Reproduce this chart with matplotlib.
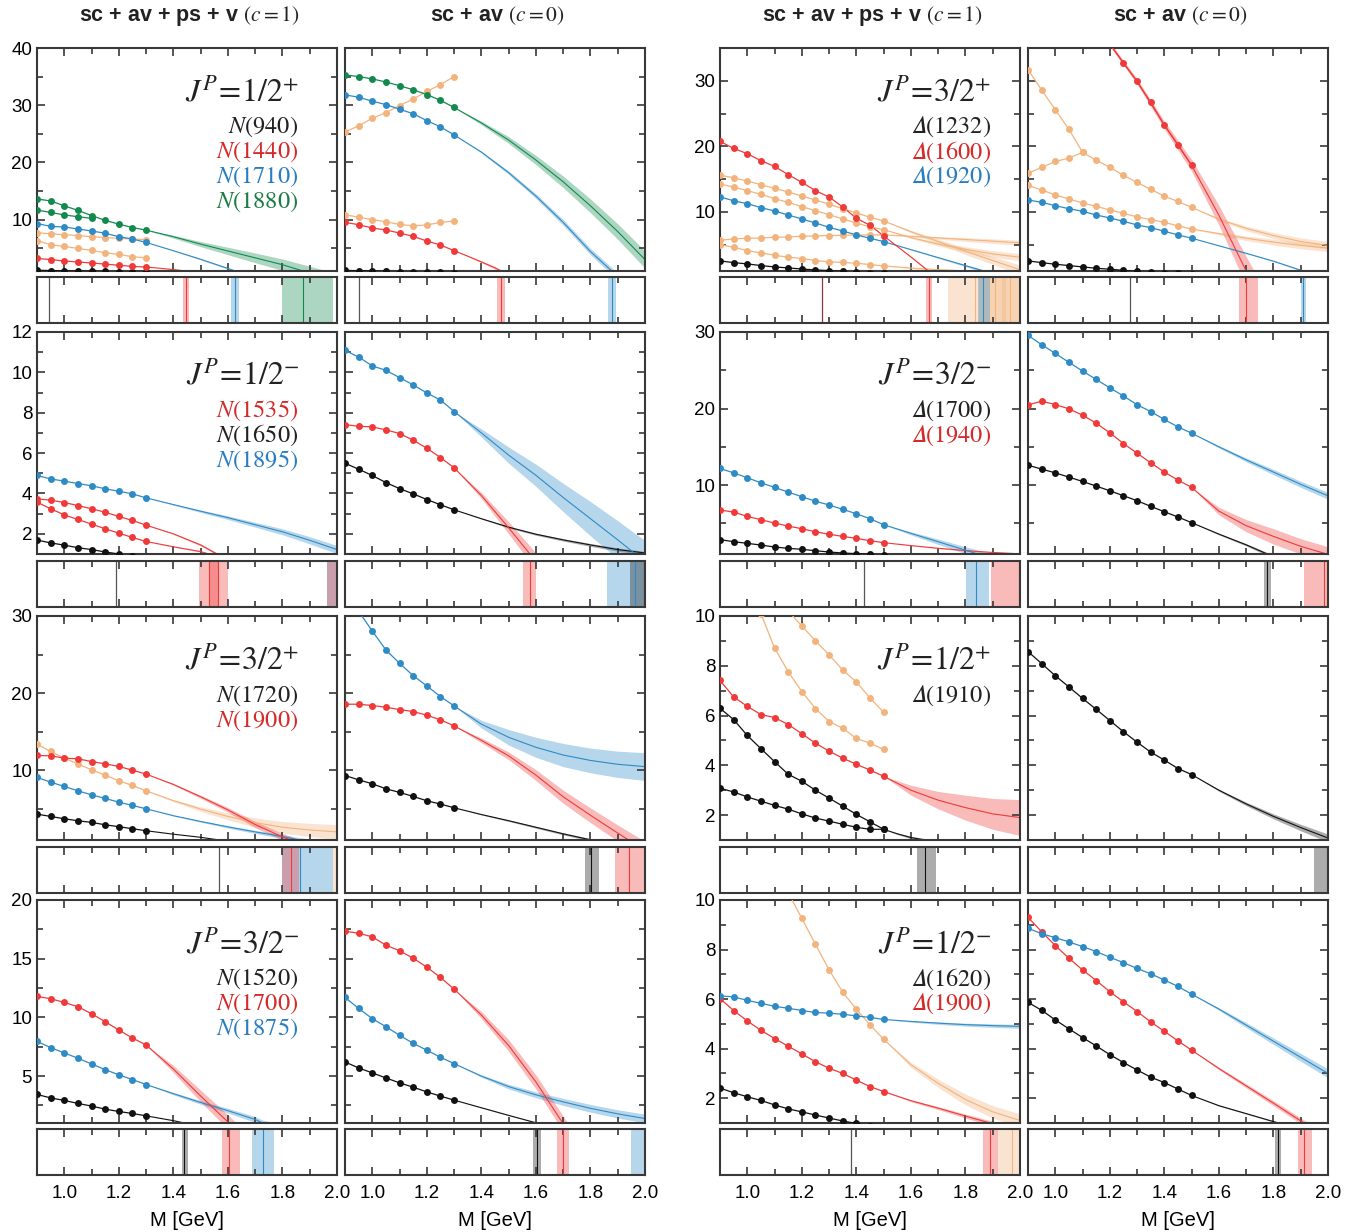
import numpy as np
import matplotlib
matplotlib.use("Agg")
import matplotlib.pyplot as plt
from matplotlib.ticker import MultipleLocator, FixedLocator, FormatStrFormatter

plt.rcParams['font.family'] = ['Liberation Sans', 'DejaVu Sans']
plt.rcParams['mathtext.fontset'] = 'stix'

W, H = 1363, 1232

# ---------------- data ----------------
X9 = [0.9, 0.95, 1.0, 1.05, 1.1, 1.15, 1.2, 1.25, 1.3]
X13 = X9 + [1.35, 1.4, 1.45, 1.5]

COL = {'k': '#111111', 'r': '#f03a3a', 'b': '#2e8bc6', 'g': '#128a4e', 'o': '#f2b37c'}
TXT = {'k': '#222222', 'r': '#d42a2a', 'b': '#2a7dc0', 'g': '#1a7d45'}

# N, 1/2+, c=1
a1_k = [1.12, 1.08, 1.04, 1.0, 0.96, 0.92, 0.88, 0.84, 0.8]
a1_r = [3.2, 3.0, 2.75, 2.57, 2.4, 2.2, 2.0, 1.8, 1.7]
a1_r_ext = ([1.3, 1.35, 1.4, 1.446, 1.5], [1.7, 1.48, 1.25, 1.0, 0.7], [0, 0.02, 0.03, 0.03, 0.03])
a1_o1 = [7.7, 7.5, 7.35, 7.2, 7.0, 6.85, 6.7, 6.6, 6.5]
a1_o2 = [6.3, 5.6, 5.3, 4.95, 4.6, 4.2, 3.9, 3.5, 3.3]
a1_b = [9.3, 8.8, 8.7, 8.35, 8.0, 7.6, 7.0, 6.6, 6.0]
a1_b_ext = ([1.3, 1.4, 1.5, 1.6, 1.626, 1.7], [6.0, 4.55, 3.05, 1.45, 1.0, -0.1], [0, 0.05, 0.1, 0.15, 0.18, 0.2])
a1_g1 = [13.6, 13.25, 12.4, 11.6, 10.7, 9.85, 9.2, 8.6, 8.15]
a1_g2 = [11.65, 11.25, 10.8, 10.5, 10.2]
a1_g_ext = ([1.3, 1.4, 1.5, 1.6, 1.7, 1.8, 1.875, 1.95, 2.0],
            [8.15, 7.0, 5.7, 4.5, 3.3, 2.1, 1.0, -0.1, -0.8],
            [0, 0.25, 0.45, 0.65, 0.85, 1.0, 1.15, 1.3, 1.4])
a1_strip = [('k', 0.944, None, None), ('r', 1.446, 1.437, 1.456),
            ('b', 1.626, 1.611, 1.641), ('g', 1.875, 1.80, 1.985)]

# N, 1/2+, c=0
a2_k = [1.1, 1.05, 1.0, 0.95, 0.9, 0.85, 0.8, 0.75, 0.7]
a2_r = [9.5, 9.1, 8.52, 8.17, 7.64, 7.06, 6.24, 5.54, 4.55]
a2_r_ext = ([1.3, 1.35, 1.4, 1.45, 1.472, 1.52], [4.55, 3.6, 2.6, 1.55, 1.0, -0.1], [0, 0.08, 0.15, 0.22, 0.25, 0.25])
a2_b = [31.8, 31.4, 30.7, 30.1, 29.3, 28.5, 27.3, 26.2, 24.8]
a2_b_ext = ([1.3, 1.4, 1.5, 1.6, 1.7, 1.8, 1.878, 1.95],
            [24.8, 21.8, 18.2, 14.1, 9.5, 4.4, 1.0, -2.5],
            [0, 0.15, 0.3, 0.4, 0.5, 0.55, 0.6, 0.6])
a2_g = [35.3, 35.0, 34.6, 34.05, 33.4, 32.7, 31.85, 30.85, 29.6]
a2_g_ext = ([1.3, 1.4, 1.5, 1.6, 1.7, 1.8, 1.9, 2.0],
            [29.6, 26.9, 23.9, 20.4, 16.6, 12.4, 7.9, 3.0],
            [0, 0.3, 0.6, 0.8, 1.0, 1.2, 1.35, 1.5])
a2_o1 = [25.3, 26.4, 27.7, 28.7, 29.9, 31.1, 32.4, 33.6, 35.0]
a2_o2 = [10.85, 10.4, 10.0, 9.6, 9.15, 8.9, 9.05, 9.5, 9.75]
a2_strip = [('k', 0.952, None, None), ('r', 1.472, 1.456, 1.488), ('b', 1.878, 1.863, 1.893)]

# N, 1/2-, c=1
b1_k = [1.69, 1.55, 1.44, 1.31, 1.22, 1.1, 1.0, 0.9, 0.8]
b1_r1 = [3.73, 3.67, 3.55, 3.40, 3.24, 3.07, 2.86, 2.66, 2.43]
b1_r1_ext = ([1.3, 1.4, 1.5, 1.56, 1.6], [2.43, 2.0, 1.45, 1.0, 0.7], [0, 0.03, 0.05, 0.06, 0.06])
b1_r2 = [3.57, 3.24, 2.94, 2.71, 2.48, 2.25, 2.03, 1.82, 1.62]
b1_r2_ext = ([1.3, 1.4, 1.5, 1.53, 1.6], [1.62, 1.36, 1.12, 1.0, 0.75], [0, 0.02, 0.03, 0.03, 0.03])
b1_b = [4.89, 4.72, 4.61, 4.49, 4.38, 4.23, 4.11, 3.98, 3.78]
b1_b_ext = ([1.3, 1.4, 1.5, 1.6, 1.7, 1.8, 1.9, 2.0],
            [3.78, 3.45, 3.12, 2.8, 2.45, 2.1, 1.68, 1.22],
            [0, 0.03, 0.06, 0.09, 0.12, 0.15, 0.18, 0.2])
b1_strip = [('k', 1.188, None, None), ('r', 1.531, 1.494, 1.565), ('r', 1.562, 1.53, 1.60),
            ('b', 2.02, 1.963, 2.08), ('r', 2.03, 1.963, 2.08)]

# N, 1/2-, c=0
b2_k = [5.5, 5.2, 4.89, 4.54, 4.24, 3.98, 3.7, 3.44, 3.19]
b2_k_ext = ([1.3, 1.4, 1.5, 1.6, 1.7, 1.8, 1.9, 2.0],
            [3.19, 2.75, 2.33, 1.98, 1.7, 1.45, 1.22, 1.05],
            [0, 0.02, 0.04, 0.05, 0.06, 0.07, 0.08, 0.08])
b2_r = [7.41, 7.33, 7.30, 7.15, 6.97, 6.64, 6.24, 5.78, 5.27]
b2_r_ext = ([1.3, 1.4, 1.5, 1.578, 1.62], [5.27, 3.9, 2.3, 1.0, 0.3], [0, 0.15, 0.3, 0.4, 0.4])
b2_b = [11.09, 10.76, 10.32, 10.1, 9.74, 9.38, 8.98, 8.63, 8.06]
b2_b_ext = ([1.3, 1.4, 1.5, 1.6, 1.7, 1.8, 1.9, 1.965, 2.0],
            [8.06, 7.0, 5.9, 4.9, 3.8, 2.75, 1.7, 1.0, 0.63],
            [0, 0.2, 0.4, 0.55, 0.7, 0.85, 0.95, 1.0, 1.05])
b2_strip = [('r', 1.578, 1.554, 1.602), ('b', 1.965, 1.86, 2.07), ('k', 1.995, 1.945, 2.06)]

# N, 3/2+, c=1
c1_k = [4.35, 4.05, 3.75, 3.49, 3.28, 2.97, 2.72, 2.46, 2.2]
c1_k_ext = ([1.3, 1.4, 1.5, 1.568, 1.6], [2.2, 1.75, 1.35, 1.0, 0.85], [0, 0, 0, 0, 0])
c1_b = [9.1, 8.49, 7.93, 7.37, 6.85, 6.38, 5.9, 5.47, 5.04]
c1_b_ext = ([1.3, 1.4, 1.5, 1.6, 1.7, 1.8, 1.862, 1.95],
            [5.04, 4.15, 3.4, 2.7, 2.05, 1.45, 1.0, 0.6],
            [0, 0.05, 0.1, 0.15, 0.2, 0.25, 0.3, 0.3])
c1_r = [11.94, 11.9, 11.6, 11.51, 11.16, 10.86, 10.52, 10.04, 9.53]
c1_r_ext = ([1.3, 1.4, 1.5, 1.6, 1.7, 1.8, 1.83, 1.87],
            [9.53, 8.2, 6.6, 4.9, 3.0, 1.4, 1.0, 0.4],
            [0, 0.1, 0.2, 0.3, 0.4, 0.45, 0.45, 0.45])
c1_o = [13.41, 12.46, 11.6, 10.86, 10.09, 9.4, 8.66, 8.06, 7.37]
c1_o_ext = ([1.3, 1.4, 1.5, 1.6, 1.7, 1.8, 1.9, 2.0],
            [7.37, 6.1, 5.0, 4.05, 3.25, 2.65, 2.3, 2.05],
            [0, 0.15, 0.3, 0.45, 0.6, 0.75, 0.85, 0.95])
c1_strip = [('k', 1.568, None, None), ('b', 1.865, 1.80, 1.985), ('r', 1.83, 1.80, 1.86),
            ('o', 2.03, 1.985, 2.1)]

# N, 3/2+, c=0
c2_k = [9.35, 8.79, 8.28, 7.63, 7.16, 6.64, 6.08, 5.65, 5.17]
c2_k_ext = ([1.3, 1.4, 1.5, 1.6, 1.7, 1.803, 1.85], [5.17, 4.3, 3.5, 2.65, 1.8, 1.0, 0.6],
            [0, 0.05, 0.1, 0.12, 0.14, 0.15, 0.15])
c2_r = [18.58, 18.58, 18.41, 18.19, 17.89, 17.63, 17.16, 16.55, 15.78]
c2_r_ext = ([1.3, 1.4, 1.5, 1.6, 1.7, 1.8, 1.9, 1.94, 2.0],
            [15.78, 13.9, 11.9, 9.4, 6.6, 4.2, 1.9, 1.0, -0.3],
            [0, 0.3, 0.5, 0.7, 0.85, 0.95, 1.05, 1.1, 1.1])
c2_b = [33.5, 30.6, 28.06, 25.6, 23.88, 22.28, 20.95, 19.57, 18.36]
c2_b_ext = ([1.3, 1.4, 1.5, 1.6, 1.7, 1.8, 1.9, 2.0],
            [18.36, 16.0, 14.3, 13.0, 12.0, 11.3, 10.8, 10.5],
            [0, 0.5, 1.0, 1.3, 1.5, 1.6, 1.7, 1.8])
c2_strip = [('k', 1.803, 1.78, 1.83), ('r', 1.94, 1.89, 2.0)]

# N, 3/2-, c=1
d1_k = [3.43, 3.14, 2.92, 2.67, 2.44, 2.18, 1.98, 1.81, 1.61]
d1_k_ext = ([1.3, 1.4, 1.44, 1.5], [1.61, 1.2, 1.0, 0.7], [0, 0.01, 0.01, 0.01])
d1_b = [7.96, 7.42, 6.97, 6.52, 6.03, 5.55, 5.1, 4.7, 4.28]
d1_b_ext = ([1.3, 1.4, 1.5, 1.6, 1.7, 1.727, 1.8], [4.28, 3.5, 2.75, 2.05, 1.3, 1.0, 0.6],
            [0, 0.1, 0.15, 0.2, 0.25, 0.25, 0.25])
d1_r = [11.78, 11.59, 11.27, 10.91, 10.31, 9.63, 8.92, 8.24, 7.65]
d1_r_ext = ([1.3, 1.4, 1.5, 1.604, 1.65], [7.65, 5.6, 3.3, 1.0, 0.0], [0, 0.3, 0.5, 0.6, 0.6])
d1_strip = [('k', 1.44, 1.43, 1.453), ('r', 1.604, 1.58, 1.645), ('b', 1.727, 1.69, 1.77)]

# N, 3/2-, c=0
d2_k = [6.2, 5.69, 5.27, 4.84, 4.42, 4.05, 3.65, 3.29, 2.95]
d2_k_ext = ([1.3, 1.4, 1.5, 1.603, 1.65], [2.95, 2.3, 1.65, 1.0, 0.7], [0, 0.02, 0.02, 0.02, 0.02])
d2_b = [11.7, 10.76, 9.89, 9.21, 8.47, 7.79, 7.2, 6.6, 6.06]
d2_b_ext = ([1.3, 1.4, 1.5, 1.6, 1.7, 1.8, 1.9, 2.0],
            [6.06, 5.0, 4.1, 3.4, 2.8, 2.25, 1.78, 1.38],
            [0, 0.1, 0.2, 0.25, 0.3, 0.33, 0.35, 0.37])
d2_r = [17.34, 17.17, 16.86, 16.15, 15.67, 15.04, 14.28, 13.4, 12.41]
d2_r_ext = ([1.3, 1.4, 1.5, 1.6, 1.698, 1.75], [12.41, 10.2, 7.6, 4.5, 1.0, -0.8],
            [0, 0.3, 0.5, 0.6, 0.65, 0.65])
d2_strip = [('k', 1.603, 1.59, 1.617), ('r', 1.698, 1.676, 1.72), ('b', 2.03, 1.95, 2.1)]

# Delta, 3/2+, c=1
e1_k = [2.54, 2.28, 2.08, 1.83, 1.62, 1.47, 1.3, 1.17, 1.05, 0.95, 0.85, 0.75, 0.65]
e1_b = [12.3, 11.7, 11.27, 10.66, 10.15, 9.54, 8.93, 8.32, 7.66, 7.1, 6.5, 5.99, 5.48]
e1_b_ext = ([1.5, 1.6, 1.7, 1.8, 1.867, 1.95], [5.48, 4.26, 3.04, 1.82, 1.0, -0.1],
            [0, 0.05, 0.1, 0.15, 0.2, 0.2])
e1_r = [20.76, 19.7, 18.88, 17.82, 16.95, 15.69, 14.52, 13.25, 12.28, 10.76, 9.04, 7.97, 6.35]
e1_r_ext = ([1.5, 1.6, 1.664, 1.7], [6.35, 3.15, 1.0, -0.2], [0, 0.1, 0.12, 0.12])
e1_oa = [15.58, 15.23, 14.72, 14.16, 13.6, 13.05, 12.44, 11.83, 11.17, 10.51, 9.85, 9.19, 8.63]
e1_oa_ext = ([1.5, 1.6, 1.7, 1.8, 1.9, 2.0], [8.63, 7.0, 5.5, 4.0, 2.6, 1.2], [0, 0.2, 0.35, 0.5, 0.6, 0.7])
e1_ob = [14.26, 13.81, 13.25, 12.69, 12.03, 11.47, 10.81, 10.2, 9.59, 8.93, 8.32, 7.72, 7.3]
e1_ob_ext = ([1.5, 1.6, 1.7, 1.8, 1.9, 2.0], [7.3, 6.1, 5.1, 4.3, 3.6, 3.1], [0, 0.15, 0.3, 0.4, 0.5, 0.55])
e1_oc = [5.68, 5.89, 5.99, 6.04, 6.14, 6.19, 6.29, 6.35, 6.4, 6.45, 6.48, 6.5, 6.5]
e1_oc_ext = ([1.5, 1.6, 1.7, 1.8, 1.9, 2.0], [6.5, 6.3, 6.05, 5.8, 5.55, 5.3], [0, 0.1, 0.2, 0.3, 0.35, 0.4])
e1_od = [5.03, 4.62, 4.11, 3.76, 3.4, 3.1, 2.9, 2.6, 2.39, 2.3, 2.18, 1.98, 1.78]
e1_od_ext = ([1.5, 1.6, 1.7, 1.8, 1.9], [1.78, 1.45, 1.2, 1.0, 0.8], [0, 0.1, 0.15, 0.2, 0.25])
e1_strip = [('x', 1.273, None, None), ('r', 1.667, 1.656, 1.678), ('o', 1.835, 1.735, 1.95),
            ('o', 1.91, 1.85, 2.0), ('b', 1.865, 1.846, 1.89), ('o', 1.963, 1.933, 2.05)]

# Delta, 3/2+, c=0
e2_k = [2.54, 2.28, 2.03, 1.83, 1.62, 1.42, 1.27, 1.1, 0.95, 0.85, 0.75, 0.65, 0.55]
e2_b = [11.83, 11.47, 10.96, 10.5, 10.1, 9.54, 9.09, 8.58, 8.02, 7.61, 7.06, 6.5, 6.0]
e2_b_ext = ([1.5, 1.6, 1.7, 1.8, 1.909, 1.95], [6.0, 4.85, 3.7, 2.5, 1.0, 0.5], [0, 0.03, 0.05, 0.07, 0.1, 0.1])
e2_oc = [14.06, 13.35, 12.6, 11.98, 11.37, 10.86, 10.3, 9.8, 9.24, 8.83, 8.43, 7.87, 7.41]
e2_oc_ext = ([1.5, 1.6, 1.7, 1.8, 1.9, 2.0], [7.41, 6.7, 6.0, 5.4, 4.9, 4.5], [0, 0.2, 0.35, 0.45, 0.5, 0.55])
e2_oa = [31.7, 28.6, 25.6, 22.6, 19.1, 17.9, 16.8, 15.6, 14.5, 13.45, 12.4, 11.6, 10.7]
e2_oa_ext = ([1.5, 1.6, 1.7, 1.8, 1.9, 2.0], [10.7, 8.9, 7.5, 6.4, 5.5, 4.9], [0, 0.2, 0.35, 0.45, 0.55, 0.6])
e2_ob = [15.9, 16.8, 17.7, 18.2, 19.1]
e2_r_x = [1.15, 1.2, 1.25, 1.3, 1.35, 1.4, 1.45, 1.5]
e2_r = [38.5, 35.6, 32.7, 29.9, 26.7, 23.25, 20.25, 17.1]
e2_r_ext = ([1.2, 1.3, 1.4, 1.5, 1.6, 1.7, 1.75], [35.6, 29.9, 23.25, 17.1, 9.5, 1.0, -3.0],
            [0.3, 0.4, 0.6, 0.9, 1.5, 2.2, 2.5])
e2_strip = [('k', 1.273, None, None), ('r', 1.70, 1.673, 1.742), ('b', 1.909, 1.9, 1.918)]

# Delta, 3/2-, c=1
f1_k = [2.87, 2.61, 2.39, 2.17, 1.91, 1.74, 1.61, 1.43, 1.26, 1.13, 1.04, 0.96, 0.88]
f1_r = [6.74, 6.48, 5.91, 5.48, 5.04, 4.65, 4.3, 3.91, 3.57, 3.3, 3.04, 2.74, 2.48]
f1_r_ext = ([1.5, 1.6, 1.7, 1.8, 1.9, 2.0], [2.48, 2.1, 1.75, 1.45, 1.2, 1.02], [0, 0.03, 0.05, 0.06, 0.07, 0.08])
f1_b = [12.17, 11.6, 10.96, 10.3, 9.7, 9.09, 8.48, 7.9, 7.4, 6.83, 6.26, 5.6, 4.83]
f1_b_ext = ([1.5, 1.6, 1.7, 1.8, 1.84, 1.9], [4.83, 3.7, 2.6, 1.5, 1.05, 0.4], [0, 0.2, 0.35, 0.45, 0.5, 0.5])
f1_strip = [('k', 1.429, None, None), ('b', 1.84, 1.803, 1.888), ('r', 1.995, 1.894, 2.1)]

# Delta, 3/2-, c=0
f2_k = [12.6, 12.09, 11.6, 11.04, 10.48, 9.87, 9.26, 8.61, 7.96, 7.22, 6.52, 5.83, 5.09]
f2_k_ext = ([1.5, 1.6, 1.7, 1.777, 1.8], [5.09, 3.6, 2.2, 1.0, 0.6], [0, 0.1, 0.15, 0.2, 0.2])
f2_r = [20.48, 20.96, 20.52, 19.96, 19.13, 18.09, 16.83, 15.43, 14.17, 12.91, 11.7, 10.65, 9.7]
f2_r_ext = ([1.5, 1.6, 1.7, 1.8, 1.9, 2.0], [9.7, 6.6, 4.7, 3.3, 2.0, 0.95], [0, 0.5, 0.8, 1.0, 1.0, 1.0])
f2_b = [29.57, 28.35, 27.2, 26.04, 24.9, 23.8, 22.7, 21.65, 20.5, 19.6, 18.57, 17.6, 16.78]
f2_b_ext = ([1.5, 1.6, 1.7, 1.8, 1.9, 2.0], [16.78, 15.0, 13.3, 11.7, 10.1, 8.6], [0, 0.15, 0.25, 0.35, 0.4, 0.45])
f2_strip = [('k', 1.777, 1.764, 1.79), ('r', 1.984, 1.912, 2.06)]

# Delta, 1/2+, c=1
g1_k1 = [6.29, 5.84, 5.2, 4.67, 4.15, 3.64, 3.36, 3.0, 2.68, 2.36, 2.03, 1.73, 1.43]
g1_k2 = [3.08, 2.93, 2.73, 2.56, 2.39, 2.24, 2.05, 1.88, 1.76, 1.63, 1.51, 1.43, 1.43]
g1_k_ext = ([1.5, 1.55, 1.6, 1.651, 1.7], [1.43, 1.25, 1.1, 1.0, 0.9], [0, 0.03, 0.05, 0.06, 0.06])
g1_r = [7.41, 6.75, 6.37, 6.04, 5.92, 5.64, 5.27, 4.89, 4.57, 4.29, 4.04, 3.81, 3.56]
g1_r_ext = ([1.5, 1.6, 1.7, 1.8, 1.9, 2.0], [3.56, 3.0, 2.6, 2.3, 2.05, 1.9], [0, 0.2, 0.35, 0.5, 0.62, 0.72])
g1_o1_x = [1.15, 1.2, 1.25, 1.3, 1.35, 1.4, 1.45, 1.5]
g1_o1 = [10.2, 9.6, 9.0, 8.44, 7.83, 7.35, 6.71, 6.13]
g1_o2_x = [1.05, 1.1, 1.15, 1.2, 1.25, 1.3, 1.35, 1.4, 1.45, 1.5]
g1_o2 = [10.1, 8.71, 7.77, 6.96, 6.28, 5.76, 5.49, 5.08, 4.89, 4.64]
g1_strip = [('k', 1.651, 1.624, 1.693)]

# Delta, 1/2+, c=0
g2_k = [8.57, 8.09, 7.6, 7.15, 6.69, 6.25, 5.8, 5.35, 4.93, 4.53, 4.21, 3.87, 3.63]
g2_k_ext = ([1.5, 1.6, 1.7, 1.8, 1.9, 2.0], [3.63, 3.0, 2.45, 1.95, 1.5, 1.08], [0, 0.04, 0.07, 0.1, 0.13, 0.16])
g2_strip = [('k', 2.02, 1.95, 2.08)]

# Delta, 1/2-, c=1
h1_k = [2.41, 2.22, 2.06, 1.91, 1.73, 1.57, 1.45, 1.32, 1.2, 1.08, 0.98, 0.88, 0.78]
h1_r = [6.02, 5.54, 5.12, 4.74, 4.41, 4.1, 3.79, 3.47, 3.21, 3.0, 2.73, 2.47, 2.27]
h1_r_ext = ([1.5, 1.6, 1.7, 1.8, 1.89, 1.95], [2.27, 1.9, 1.6, 1.28, 1.0, 0.8], [0, 0.04, 0.06, 0.08, 0.1, 0.1])
h1_b = [6.13, 6.09, 5.95, 5.83, 5.71, 5.63, 5.54, 5.46, 5.43, 5.39, 5.32, 5.26, 5.18]
h1_b_ext = ([1.5, 1.6, 1.7, 1.8, 1.9, 2.0], [5.18, 5.1, 5.03, 4.97, 4.93, 4.9], [0, 0.03, 0.05, 0.06, 0.07, 0.08])
h1_o_x = [1.15, 1.2, 1.25, 1.3, 1.35, 1.4, 1.45, 1.5]
h1_o = [10.3, 9.26, 8.21, 7.18, 6.28, 5.59, 4.96, 4.38]
h1_o_ext = ([1.5, 1.6, 1.7, 1.8, 1.9, 2.0], [4.38, 3.35, 2.6, 1.95, 1.45, 1.1], [0, 0.1, 0.17, 0.22, 0.25, 0.27])
h1_strip = [('k', 1.38, None, None), ('r', 1.89, 1.866, 1.92), ('o', 1.97, 1.92, 2.05)]

# Delta, 1/2-, c=0
h2_k = [5.87, 5.55, 5.16, 4.8, 4.45, 4.11, 3.76, 3.44, 3.14, 2.85, 2.63, 2.37, 2.11]
h2_k_ext = ([1.5, 1.6, 1.7, 1.818, 1.85], [2.11, 1.7, 1.38, 1.0, 0.9], [0, 0.02, 0.02, 0.02, 0.02])
h2_r = [9.3, 8.72, 8.16, 7.65, 7.18, 6.75, 6.3, 5.89, 5.5, 5.08, 4.7, 4.31, 3.94]
h2_r_ext = ([1.5, 1.6, 1.7, 1.8, 1.912, 1.95], [3.94, 3.2, 2.5, 1.8, 1.0, 0.75], [0, 0.05, 0.08, 0.1, 0.12, 0.12])
h2_b = [8.86, 8.64, 8.48, 8.31, 8.12, 7.92, 7.69, 7.47, 7.24, 7.02, 6.77, 6.51, 6.2]
h2_b_ext = ([1.5, 1.6, 1.7, 1.8, 1.9, 2.0], [6.2, 5.6, 4.95, 4.3, 3.65, 3.0], [0, 0.05, 0.1, 0.13, 0.16, 0.18])
h2_strip = [('k', 1.818, 1.806, 1.828), ('r', 1.912, 1.89, 1.94)]

# panel labels
labels_jp = [[r'$J^P\!=\!1/2^{+}$', r'$J^P\!=\!3/2^{+}$'],
             [r'$J^P\!=\!1/2^{-}$', r'$J^P\!=\!3/2^{-}$'],
             [r'$J^P\!=\!3/2^{+}$', r'$J^P\!=\!1/2^{+}$'],
             [r'$J^P\!=\!3/2^{-}$', r'$J^P\!=\!1/2^{-}$']]
D = '\U0001D6E5'  # mathematical italic capital delta
states = [[[('k', 'N(940)'), ('r', 'N(1440)'), ('b', 'N(1710)'), ('g', 'N(1880)')],
           [('k', D + '(1232)'), ('r', D + '(1600)'), ('b', D + '(1920)')]],
          [[('r', 'N(1535)'), ('k', 'N(1650)'), ('b', 'N(1895)')],
           [('k', D + '(1700)'), ('r', D + '(1940)')]],
          [[('k', 'N(1720)'), ('r', 'N(1900)')],
           [('k', D + '(1910)')]],
          [[('k', 'N(1520)'), ('r', 'N(1700)'), ('b', 'N(1875)')],
           [('k', D + '(1620)'), ('r', D + '(1900)')]]]

# series per panel: (colour, x, y, extrapolation)
panels = {
    (0, 0): [('o', X9, a1_o1, None), ('o', X9, a1_o2, None), ('k', X9, a1_k, None),
             ('r', X9, a1_r, a1_r_ext), ('b', X9, a1_b, a1_b_ext),
             ('g', X9[:5], a1_g2, None), ('g', X9, a1_g1, a1_g_ext)],
    (0, 1): [('o', X9, a2_o1, None), ('o', X9, a2_o2, None), ('k', X9, a2_k, None),
             ('r', X9, a2_r, a2_r_ext), ('b', X9, a2_b, a2_b_ext), ('g', X9, a2_g, a2_g_ext)],
    (1, 0): [('k', X9, b1_k, None), ('r', X9, b1_r1, b1_r1_ext), ('r', X9, b1_r2, b1_r2_ext),
             ('b', X9, b1_b, b1_b_ext)],
    (1, 1): [('k', X9, b2_k, b2_k_ext), ('r', X9, b2_r, b2_r_ext), ('b', X9, b2_b, b2_b_ext)],
    (2, 0): [('o', X9, c1_o, c1_o_ext), ('k', X9, c1_k, c1_k_ext), ('b', X9, c1_b, c1_b_ext),
             ('r', X9, c1_r, c1_r_ext)],
    (2, 1): [('k', X9, c2_k, c2_k_ext), ('r', X9, c2_r, c2_r_ext), ('b', X9, c2_b, c2_b_ext)],
    (3, 0): [('k', X9, d1_k, d1_k_ext), ('b', X9, d1_b, d1_b_ext), ('r', X9, d1_r, d1_r_ext)],
    (3, 1): [('k', X9, d2_k, d2_k_ext), ('b', X9, d2_b, d2_b_ext), ('r', X9, d2_r, d2_r_ext)],
    (0, 2): [('o', X13, e1_oa, e1_oa_ext), ('o', X13, e1_ob, e1_ob_ext), ('o', X13, e1_oc, e1_oc_ext),
             ('o', X13, e1_od, e1_od_ext), ('k', X13, e1_k, None), ('b', X13, e1_b, e1_b_ext),
             ('r', X13, e1_r, e1_r_ext)],
    (0, 3): [('o', X13, e2_oa, e2_oa_ext), ('o', X13[:5], e2_ob, None), ('o', X13, e2_oc, e2_oc_ext),
             ('k', X13, e2_k, None), ('b', X13, e2_b, e2_b_ext), ('r', e2_r_x, e2_r, e2_r_ext)],
    (1, 2): [('k', X13, f1_k, None), ('r', X13, f1_r, f1_r_ext), ('b', X13, f1_b, f1_b_ext)],
    (1, 3): [('k', X13, f2_k, f2_k_ext), ('r', X13, f2_r, f2_r_ext), ('b', X13, f2_b, f2_b_ext)],
    (2, 2): [('o', g1_o1_x, g1_o1, None), ('o', g1_o2_x, g1_o2, None), ('k', X13, g1_k2, None),
             ('k', X13, g1_k1, g1_k_ext), ('r', X13, g1_r, g1_r_ext)],
    (2, 3): [('k', X13, g2_k, g2_k_ext)],
    (3, 2): [('o', h1_o_x, h1_o, h1_o_ext), ('k', X13, h1_k, None), ('r', X13, h1_r, h1_r_ext),
             ('b', X13, h1_b, h1_b_ext)],
    (3, 3): [('k', X13, h2_k, h2_k_ext), ('r', X13, h2_r, h2_r_ext), ('b', X13, h2_b, h2_b_ext)],
}
strips = {(0, 0): a1_strip, (0, 1): a2_strip, (1, 0): b1_strip, (1, 1): b2_strip,
          (2, 0): c1_strip, (2, 1): c2_strip, (3, 0): d1_strip, (3, 1): d2_strip,
          (0, 2): e1_strip, (0, 3): e2_strip, (1, 2): f1_strip, (1, 3): f2_strip,
          (2, 2): g1_strip, (2, 3): g2_strip, (3, 2): h1_strip, (3, 3): h2_strip}

# y axis setup: (top, major step, minor step) for left group and right group
yaxes_left = [(40, 10, 5), (12, 2, 1), (30, 10, 5), (20, 5, 2.5)]
yaxes_right = [(35, 10, 5), (30, 10, 5), (10, 2, 1), (10, 2, 1)]

# ---------------- layout ----------------
cols_px = [(37, 337), (345, 645), (720, 1020), (1028, 1328)]
main_px = [(48, 271), (332, 554), (616, 840), (900, 1123)]
strip_px = [(277, 323), (561, 607), (847, 893), (1129, 1175)]
EDGE = '#383838'


def rect(l, t, r, b):
    return [l / W, 1 - b / H, (r - l) / W, (b - t) / H]


def style(ax):
    for s in ax.spines.values():
        s.set_linewidth(1.5)
        s.set_color(EDGE)
    ax.tick_params(which='both', direction='in', top=True, right=True,
                   width=1.2, color=EDGE, labelsize=13.5)
    ax.tick_params(which='major', length=6)
    ax.tick_params(which='minor', length=4)
    ax.set_xlim(0.9, 2.0)
    ax.xaxis.set_major_locator(MultipleLocator(0.2))
    ax.xaxis.set_minor_locator(MultipleLocator(0.1))


def draw_series(ax, c, x, y, ext):
    if ext is not None:
        ex, ey, ew = np.array(ext[0]), np.array(ext[1]), np.array(ext[2])
        ax.fill_between(ex, ey - ew, ey + ew, color=COL[c], alpha=0.35, lw=0, zorder=1)
        ax.plot(ex, ey, color=COL[c], lw=0.8, zorder=2)
    ax.plot(x, y, '-', color=COL[c], lw=0.9, zorder=3)
    ax.plot(x, y, 'o', color=COL[c], ms=5, mec='none', zorder=4)


fig = plt.figure(figsize=(W / 100, H / 100), dpi=100)

for row in range(4):
    for col in range(4):
        l, r = cols_px[col]
        ax = fig.add_axes(rect(l, main_px[row][0], r, main_px[row][1]))
        style(ax)
        top, maj, mnr = (yaxes_left if col < 2 else yaxes_right)[row]
        ax.set_ylim(1, top)
        ax.yaxis.set_major_locator(FixedLocator(np.arange(maj, top + 0.01, maj)))
        ax.yaxis.set_minor_locator(FixedLocator(np.arange(mnr, top + 0.01, mnr)))
        ax.tick_params(labelbottom=False, labelleft=(col in (0, 2)))
        for c, x, y, ext in panels[(row, col)]:
            draw_series(ax, c, x, y, ext)
        if col in (0, 2):
            xr = 0.875 if col == 0 else 0.905
            ax.text(xr, 0.80, labels_jp[row][col // 2], transform=ax.transAxes,
                    ha='right', va='center', fontsize=23, color='#222222')
            for i, (c, name) in enumerate(states[row][col // 2]):
                ax.text(xr - 0.003, 0.645 - 0.112 * i, '$' + name + '$', transform=ax.transAxes,
                        ha='right', va='center', fontsize=17.5, color=TXT[c])

        sx = fig.add_axes(rect(l, strip_px[row][0], r, strip_px[row][1]))
        style(sx)
        sx.set_ylim(0, 1)
        sx.set_yticks([])
        sx.tick_params(labelbottom=(row == 3))
        if row == 3:
            sx.tick_params(axis='x', pad=7)
            sx.xaxis.set_major_formatter(FormatStrFormatter('%.1f'))
            sx.set_xlabel('M [GeV]', fontsize=14.5, labelpad=7)
        for c, m, lo, hi in strips[(row, col)]:
            if lo is None:
                lc = '#8a3a3a' if c == 'x' else '#555555'
                sx.axvline(m, color=lc, lw=0.9)
            else:
                sx.axvspan(lo, hi, color=COL[c], alpha=0.35, lw=0)
                sx.axvline(m, color=COL[c], lw=0.8)

titles = [r'sc + av + ps + v $(c=1)$', r'sc + av $(c=0)$']
for col in range(4):
    l, r = cols_px[col]
    fig.text((l + r) / 2 / W + 2 / W, 1 - 16 / H, titles[col % 2], ha='center', va='center',
             fontsize=15.5, fontweight='bold', color='#222222')

fig.savefig('out.png', dpi=100)
